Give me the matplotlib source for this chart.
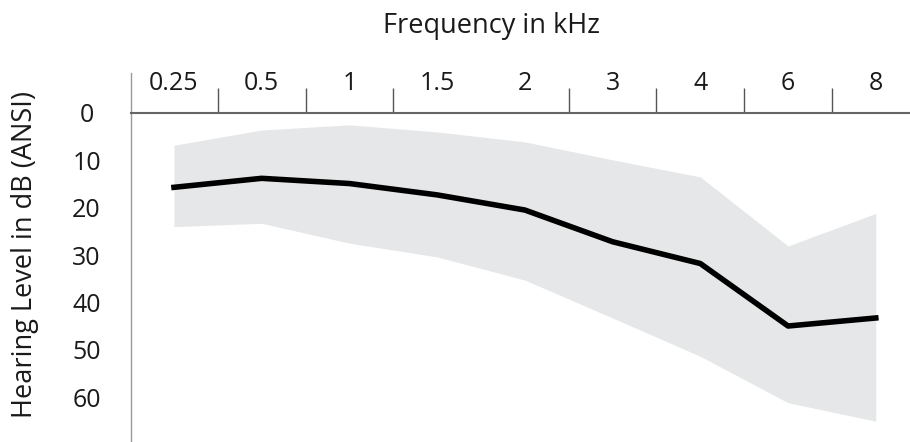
import matplotlib
matplotlib.use('Agg')
import matplotlib.pyplot as plt

# audiogram: mean hearing level with spread band
freqs = ['0.25', '0.5', '1', '1.5', '2', '3', '4', '6', '8']
mean_db = [15.7, 13.8, 14.9, 17.3, 20.5, 27.2, 31.8, 45.0, 43.3]
upper_db = [6.8, 3.6, 2.5, 4.0, 6.1, 9.9, 13.5, 28.1, 21.2]
lower_db = [24.0, 23.3, 27.5, 30.4, 35.3, 43.3, 51.4, 61.2, 65.1]
y_ticks = [0, 10, 20, 30, 40, 50, 60]
separators = [0.5, 1.5, 2.5, 4.5, 5.5, 6.5, 7.5]

plt.rcParams['font.family'] = ['Open Sans', 'DejaVu Sans']

fig = plt.figure(figsize=(9.1, 4.42), dpi=100)
ax = fig.add_axes([131/910, 0, 779/910, 329/442])

x = list(range(len(freqs)))
ax.fill_between(x, upper_db, lower_db, color='#e6e7e8', lw=0)
ax.plot(x, mean_db, color='black', lw=4.0, solid_joinstyle='round')

ax.set_xlim(-0.49, 8.39)
ax.set_ylim(69.5, 0)

# category labels on top, separators as small ticks
ax.xaxis.tick_top()
ax.set_xticks(x)
ax.set_xticklabels(freqs, fontsize=18)
ax.tick_params(axis='x', which='major', length=0, pad=12, colors='#1a1a1a')
ax.set_xticks(separators, minor=True)
ax.tick_params(axis='x', which='minor', length=18, width=1.0, color='#555555', direction='out')

ax.set_yticks(y_ticks)
ax.set_yticklabels([str(v) for v in y_ticks], fontsize=18, ha='center')
ax.tick_params(axis='y', length=0, pad=32, colors='#1a1a1a')

for s in ['right', 'bottom', 'left']:
    ax.spines[s].set_visible(False)
ax.spines['top'].set_color('#666666')
ax.spines['top'].set_linewidth(1.5)
ax.plot([-0.49, -0.49], [0, 1.1216], transform=ax.get_xaxis_transform(),
        color='#999999', lw=1.0, clip_on=False)

fig.text(492/910, 1 - 33/442, 'Frequency in kHz', fontsize=19.5, ha='center',
         va='baseline', color='#1a1a1a')
fig.text(25/910, 1 - 254/442, 'Hearing Level in dB (ANSI)', fontsize=19.5,
         rotation=90, ha='center', va='center', color='#1a1a1a')

plt.savefig('out.png', dpi=100)
plt.close()
